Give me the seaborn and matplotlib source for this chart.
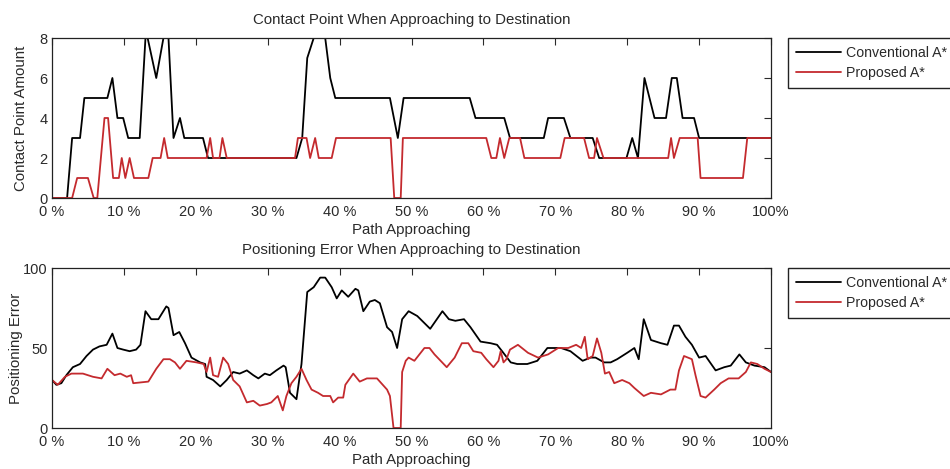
import numpy as np
import pandas as pd
import matplotlib
matplotlib.use("Agg")
import matplotlib.pyplot as plt
import seaborn as sns

# ---------------- data ----------------
series_names = ["Conventional A*", "Proposed A*"]
x_tick_values = [0, 10, 20, 30, 40, 50, 60, 70, 80, 90, 100]
x_tick_labels = ["0 %", "10 %", "20 %", "30 %", "40 %", "50 %", "60 %", "70 %", "80 %", "90 %", "100%"]

# Contact point amount
cp_conv_x = [0, 2.1, 2.8, 3.9, 4.5, 7.7, 8.4, 9.1, 9.9, 10.6,
             12.2, 13.0, 13.3, 14.5, 15.5, 16.2, 16.9, 17.8, 18.4, 21.0,
             21.7, 34.0, 34.8, 35.5, 36.4, 38.0, 38.7, 39.4, 47.0, 48.1,
             48.9, 58.1, 58.9, 62.9, 63.7, 68.4, 69.0, 71.2, 72.1, 75.2,
             76.1, 79.9, 80.7, 81.5, 82.4, 83.8, 85.4, 86.2, 86.9, 87.7,
             89.3, 90.0, 100]
cp_conv_y = [0, 0, 3, 3, 5, 5, 6, 4, 4, 3,
             3, 8, 8, 6, 8, 8, 3, 4, 3, 3,
             2, 2, 3, 7, 8, 8, 6, 5, 5, 3,
             5, 5, 4, 4, 3, 3, 4, 4, 3, 3,
             2, 2, 3, 2, 6, 4, 4, 6, 6, 4,
             4, 3, 3]
cp_prop_x = [0, 2.8, 3.5, 5.0, 5.8, 6.3, 7.3, 7.8, 8.5, 9.3,
             9.7, 10.2, 10.8, 11.4, 13.4, 14.0, 15.1, 15.6, 16.1, 21.5,
             22.0, 22.4, 23.3, 23.7, 24.3, 33.8, 34.2, 35.4, 35.9, 36.6,
             37.1, 38.9, 39.5, 47.1, 47.6, 48.5, 48.8, 60.4, 61.1, 61.8,
             62.3, 62.9, 63.6, 65.1, 65.7, 70.7, 71.3, 74.0, 74.7, 75.4,
             75.8, 76.7, 85.7, 86.1, 86.5, 87.3, 89.8, 90.2, 96.1, 96.7,
             100]
cp_prop_y = [0, 0, 1, 1, 0, 0, 4, 4, 1, 1,
             2, 1, 2, 1, 1, 2, 2, 3, 2, 2,
             3, 2, 2, 3, 2, 2, 3, 3, 2, 3,
             2, 2, 3, 3, 0, 0, 3, 3, 2, 2,
             3, 2, 3, 3, 2, 2, 3, 3, 2, 2,
             3, 2, 2, 3, 2, 3, 3, 1, 1, 3,
             3]

# Positioning error
pe_conv_x = [0, 0.6, 1.3, 2.0, 2.9, 3.9, 4.8, 5.7, 6.6, 7.6,
             8.4, 9.1, 9.9, 10.8, 11.7, 12.3, 13.0, 13.8, 14.8, 15.9,
             16.2, 16.9, 17.7, 18.5, 19.4, 20.6, 21.3, 21.5, 22.4, 23.4,
             24.3, 25.2, 26.1, 27.1, 28.0, 28.7, 29.6, 30.3, 31.2, 32.2,
             32.5, 33.1, 34.0, 34.7, 35.5, 36.4, 37.3, 38.0, 38.9, 39.6,
             40.3, 41.2, 42.2, 42.6, 43.3, 44.2, 44.9, 45.6, 46.6, 47.3,
             48.0, 48.7, 49.6, 50.8, 52.6, 54.3, 55.2, 56.1, 57.3, 58.2,
             59.6, 61.0, 61.9, 62.6, 63.8, 64.7, 66.1, 67.5, 68.9, 70.8,
             72.1, 73.8, 74.9, 75.6, 76.8, 77.7, 78.6, 80.0, 81.0, 81.6,
             82.3, 83.3, 84.7, 85.6, 86.5, 87.2, 88.1, 89.0, 90.0, 90.9,
             92.3, 93.5, 94.4, 95.6, 96.5, 97.7, 99.1, 100]
pe_conv_y = [30, 27, 28, 33, 38, 40, 45, 49, 51, 52,
             59, 50, 49, 48, 49, 52, 73, 68, 68, 76,
             75, 58, 60, 53, 44, 41, 40, 32, 30, 26,
             30, 35, 34, 36, 33, 31, 34, 33, 36, 39,
             38, 22, 18, 40, 85, 88, 94, 94, 88, 81,
             86, 82, 87, 86, 73, 79, 80, 78, 63, 60,
             50, 68, 73, 70, 62, 73, 68, 67, 68, 63,
             54, 53, 52, 48, 41, 40, 40, 42, 50, 50,
             48, 42, 44, 44, 41, 41, 43, 47, 50, 43,
             68, 55, 53, 52, 64, 64, 57, 52, 44, 45,
             36, 38, 39, 46, 41, 39, 38, 35]
pe_prop_x = [0, 0.8, 1.8, 2.7, 4.3, 5.7, 6.9, 7.7, 8.7, 9.5,
             10.4, 11.0, 11.3, 13.4, 14.5, 15.5, 16.4, 17.1, 17.8, 18.7,
             20.1, 21.1, 21.5, 22.0, 22.4, 23.1, 23.8, 24.5, 25.2, 26.1,
             27.1, 28.0, 28.9, 29.9, 30.5, 31.4, 32.1, 32.6, 33.3, 34.0,
             34.7, 35.4, 36.1, 37.0, 37.7, 38.7, 39.1, 39.8, 40.5, 40.8,
             41.9, 42.8, 43.8, 45.2, 46.6, 47.0, 47.5, 48.5, 48.7, 49.2,
             49.6, 50.4, 51.8, 52.5, 53.2, 54.9, 56.0, 57.0, 57.9, 58.6,
             59.7, 60.4, 61.4, 62.1, 62.4, 62.8, 63.2, 63.7, 64.8, 66.2,
             67.6, 69.0, 70.4, 71.8, 72.9, 73.6, 74.1, 74.5, 75.2, 75.8,
             76.4, 76.9, 77.5, 78.2, 79.3, 80.3, 81.0, 82.3, 83.3, 84.7,
             86.0, 86.7, 87.2, 87.9, 89.0, 89.5, 90.2, 90.9, 92.1, 93.0,
             94.1, 95.5, 96.5, 97.2, 98.1, 99.1, 100]
pe_prop_y = [30, 27, 32, 34, 34, 32, 31, 37, 33, 34,
             32, 33, 28, 29, 37, 43, 43, 41, 37, 42,
             41, 40, 35, 44, 33, 32, 44, 40, 30, 26,
             16, 17, 14, 15, 16, 20, 11, 20, 28, 32,
             37, 30, 24, 22, 20, 20, 16, 19, 19, 27,
             34, 29, 31, 31, 24, 20, 0, 0, 35, 42,
             44, 42, 50, 50, 46, 38, 44, 53, 53, 48,
             47, 43, 38, 42, 48, 41, 43, 49, 52, 47,
             44, 46, 50, 50, 52, 50, 57, 43, 45, 56,
             47, 34, 35, 28, 30, 28, 25, 20, 22, 21,
             24, 24, 36, 45, 43, 33, 20, 19, 24, 28,
             31, 31, 35, 41, 40, 37, 35]

# ---------------- style ----------------
sns.set_style("white")
plt.rcParams["font.family"] = ["Liberation Sans", "DejaVu Sans"]
plt.rcParams["font.size"] = 10.5
plt.rcParams["axes.edgecolor"] = "#222222"
plt.rcParams["axes.linewidth"] = 0.9

TXT = "#2a2a2a"
palette = {"Conventional A*": "#000000", "Proposed A*": "#c42a2e"}

def make_df(cx, cy, px, py):
    d1 = pd.DataFrame({"x": cx, "y": cy, "Series": series_names[0]})
    d2 = pd.DataFrame({"x": px, "y": py, "Series": series_names[1]})
    return pd.concat([d1, d2], ignore_index=True)

df_cp = make_df(cp_conv_x, cp_conv_y, cp_prop_x, cp_prop_y)
df_pe = make_df(pe_conv_x, pe_conv_y, pe_prop_x, pe_prop_y)

fig = plt.figure(figsize=(9.5, 4.69), dpi=100)
ax1 = fig.add_axes([52 / 950, 1 - 198 / 469, 719 / 950, 160 / 469])
ax2 = fig.add_axes([52 / 950, 1 - 428 / 469, 719 / 950, 160 / 469])

panels = [
    (ax1, df_cp, "Contact Point When Approaching to Destination", "Contact Point Amount",
     (0, 8), [0, 2, 4, 6, 8], 38, 28),
    (ax2, df_pe, "Positioning Error When Approaching to Destination", "Positioning Error",
     (0, 100), [0, 50, 100], 268, 23),
]

for ax, df, title, ylabel, ylim, yticks, top_px, ylab_px in panels:
    sns.lineplot(data=df, x="x", y="y", hue="Series", palette=palette,
                 hue_order=series_names, sort=False, estimator=None,
                 linewidth=1.3, ax=ax, legend=False)
    ax.set_xlim(0, 100)
    ax.set_ylim(*ylim)
    ax.set_xticks(x_tick_values)
    ax.set_xticklabels(x_tick_labels)
    ax.set_yticks(yticks)
    ax.tick_params(direction="in", length=5, width=0.8, top=True, right=True,
                   labelsize=10.5, colors=TXT)
    ax.tick_params(axis="x", pad=5)
    ax.tick_params(axis="y", pad=3)
    ax.set_title(title, fontsize=10.8, pad=10, color=TXT)
    ax.set_xlabel("Path Approaching", fontsize=10.8, labelpad=3, color=TXT)
    ax.set_ylabel(ylabel, fontsize=10.8, color=TXT)
    ax.yaxis.set_label_coords((ylab_px - 52) / 719, 0.5)
    for s in ax.spines.values():
        s.set_visible(True)
    handles = [plt.Line2D([], [], color=palette[n], lw=1.3) for n in series_names]
    fig.legend(handles, series_names, loc="upper left",
               bbox_to_anchor=(788 / 950, 1 - top_px / 469),
               frameon=True, fancybox=False, edgecolor="#222222", framealpha=1,
               handlelength=3.2, handletextpad=0.35, borderpad=0.55,
               labelspacing=0.45, fontsize=10.2, borderaxespad=0,
               labelcolor=TXT)

fig.savefig("out.png", dpi=100)
